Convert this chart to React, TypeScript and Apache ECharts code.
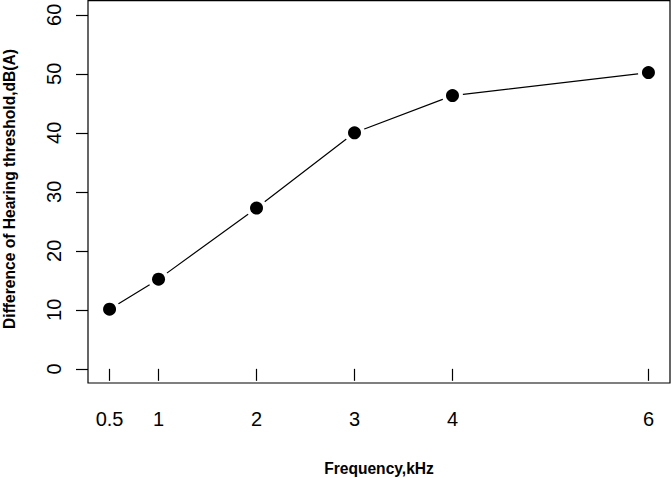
import React, { useEffect, useRef } from "react";
import * as echarts from "echarts";

const frequencies = [0.5, 1, 2, 3, 4, 6];
const thresholdDiff = [10.1, 15.2, 27.25, 40.0, 46.3, 50.2];
const xTicks = [0.5, 1, 2, 3, 4, 6];
const yTicks = [0, 10, 20, 30, 40, 50, 60];
const xTitle = "Frequency,kHz";
const yTitle = "Difference of Hearing threshold,dB(A)";

export default function App() {
  const ref = useRef<HTMLDivElement>(null);
  useEffect(() => {
    if (!ref.current) return;
    const chart = echarts.init(ref.current, null, { renderer: "svg" });
    const pts = frequencies.map((f, i) => [f, thresholdDiff[i]]);
    const font = "'Liberation Sans', Arial, sans-serif";
    chart.setOption({
      animation: false,
      backgroundColor: "#fff",
      grid: {
        left: 88,
        right: 2,
        top: 0.6,
        bottom: 95,
        show: true,
        borderColor: "#000",
        borderWidth: 1.2,
        backgroundColor: "transparent",
      },
      xAxis: {
        type: "value",
        min: 0.28,
        max: 6.22,
        axisLine: { show: false },
        splitLine: { show: false },
        axisTick: {
          show: true,
          inside: false,
          length: 12,
          customValues: xTicks,
          lineStyle: { color: "#000", width: 1.2 },
        },
        axisLabel: {
          customValues: xTicks,
          margin: 26,
          color: "#000",
          fontSize: 20,
          fontFamily: font,
          formatter: (v: number) => String(v),
        },
      },
      yAxis: {
        type: "value",
        min: -2.4,
        max: 62.4,
        axisLine: { show: false },
        splitLine: { show: false },
        axisTick: {
          show: true,
          inside: false,
          length: 12,
          customValues: yTicks,
          lineStyle: { color: "#000", width: 1.2 },
        },
        axisLabel: {
          customValues: yTicks,
          rotate: 90,
          margin: 24,
          color: "#000",
          fontSize: 20,
          fontFamily: font,
          formatter: (v: number) => String(v),
        },
      },
      graphic: [
        {
          type: "text",
          x: 379,
          y: 468,
          style: {
            text: xTitle,
            fontSize: 15.6,
            fontWeight: "bold",
            fontFamily: font,
            fill: "#000",
            align: "center",
            verticalAlign: "middle",
          },
        },
        {
          type: "text",
          x: 9.5,
          y: 189,
          rotation: Math.PI / 2,
          style: {
            text: yTitle,
            fontSize: 15.6,
            fontWeight: "bold",
            fontFamily: font,
            fill: "#000",
            align: "center",
            verticalAlign: "middle",
          },
        },
      ],
      series: [
        {
          type: "line",
          data: pts,
          lineStyle: { color: "#000", width: 1.2 },
          symbol: "circle",
          symbolSize: 21,
          itemStyle: { color: "#fff", borderWidth: 0, opacity: 1 },
          z: 2,
        },
        {
          type: "scatter",
          data: pts,
          symbol: "circle",
          symbolSize: 13,
          itemStyle: { color: "#000", opacity: 1 },
          z: 3,
        },
      ],
    });
    return () => chart.dispose();
  }, []);
  return (
    <div
      ref={ref}
      style={{ position: "fixed", left: 0, top: 0, width: 672, height: 478 }}
    />
  );
}
